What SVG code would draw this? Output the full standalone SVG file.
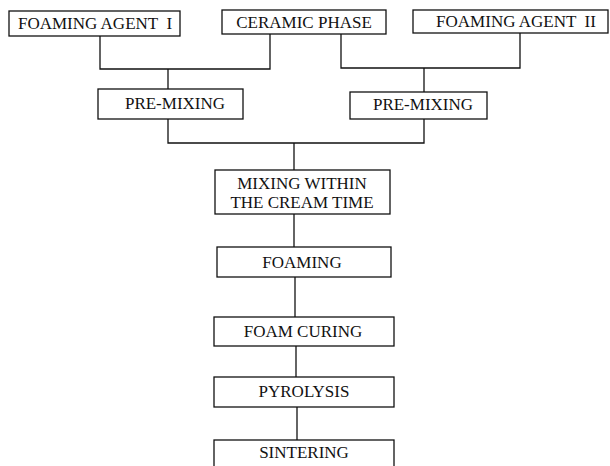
<svg xmlns="http://www.w3.org/2000/svg" width="610" height="466" viewBox="0 0 610 466">
<style>
.box{fill:#fff;stroke:#111;stroke-width:1.3}
.t{font-family:"Liberation Serif","Times New Roman",serif;font-size:17px;fill:#111;text-anchor:middle;white-space:pre}
.c{fill:none;stroke:#111;stroke-width:1.3}
</style>
<rect width="610" height="466" fill="#fff"/>
<g id="connectors" class="c">
<path d="M100,36V69H270V34"/>
<path d="M341,34V68H520V33"/>
<path d="M168,69V89"/>
<path d="M424,68V92"/>
<path d="M168,119V143H424V119"/>
<path d="M294,143V170"/>
<path d="M294,214V247"/>
<path d="M295,277V317"/>
<path d="M296,346V377"/>
<path d="M297,407V440"/>
</g>
<g id="foaming-agent-1"><rect class="box" x="9" y="11" width="171" height="25"/><text class="t" x="95" y="29">FOAMING AGENT  I</text></g>
<g id="ceramic-phase"><rect class="box" x="222" y="10" width="164" height="24"/><text class="t" x="304" y="28">CERAMIC PHASE</text></g>
<g id="foaming-agent-2"><rect class="box" x="413" y="10" width="195" height="23"/><text class="t" x="516" y="27">FOAMING AGENT  II</text></g>
<g id="pre-mixing-1"><rect class="box" x="98" y="89" width="145" height="30"/><text class="t" x="175" y="109">PRE-MIXING</text></g>
<g id="pre-mixing-2"><rect class="box" x="350" y="92" width="137" height="27"/><text class="t" x="423" y="110">PRE-MIXING</text></g>
<g id="mixing"><rect class="box" x="215" y="170" width="175" height="44"/><text class="t" x="302" y="189">MIXING WITHIN</text><text class="t" x="302" y="208">THE CREAM TIME</text></g>
<g id="foaming"><rect class="box" x="217" y="247" width="174" height="30"/><text class="t" x="302" y="268">FOAMING</text></g>
<g id="foam-curing"><rect class="box" x="214" y="317" width="180" height="29"/><text class="t" x="303" y="337">FOAM CURING</text></g>
<g id="pyrolysis"><rect class="box" x="214" y="377" width="180" height="30"/><text class="t" x="304" y="397">PYROLYSIS</text></g>
<g id="sintering"><rect class="box" x="214" y="440" width="180" height="40"/><text class="t" x="304" y="458">SINTERING</text></g>
</svg>
